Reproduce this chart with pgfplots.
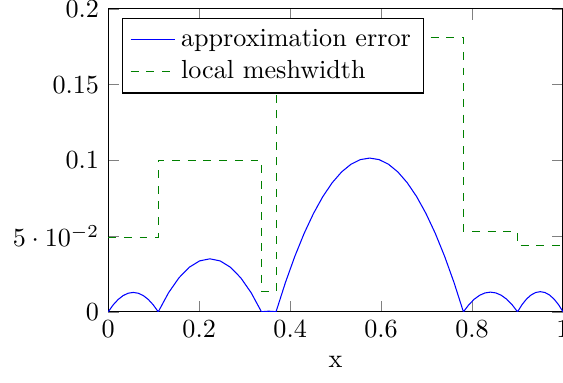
\documentclass[border=0pt]{standalone}
\usepackage{pgfplots}
\pgfplotsset{compat=1.18}
\begin{document}
\begin{tikzpicture}
\begin{axis}[
  scale only axis,
  width=174pt, height=115.9pt,
  xmin=0, xmax=1, ymin=0, ymax=0.2,
  xlabel={x},
  legend pos=north west,
  legend cell align=left,
]
\addplot[color=blue, solid, mark=none] coordinates {
(0,0) (0.011,0.00461) (0.022,0.00819) (0.033,0.01075) (0.044,0.01229) (0.055,0.0128) (0.066,0.01229) (0.077,0.01075) (0.088,0.00819) (0.099,0.00461) (0.11,0)
(0.1327,0.0126) (0.1554,0.0224) (0.1781,0.0294) (0.2008,0.0336) (0.2235,0.035) (0.2462,0.0336) (0.2689,0.0294) (0.2916,0.0224) (0.3143,0.0126) (0.337,0)
(0.345,0.0003) (0.353,0.0004) (0.361,0.0003) (0.369,0)
(0.3896,0.01929) (0.4102,0.03654) (0.4308,0.05177) (0.4514,0.06496) (0.472,0.07613) (0.4926,0.08526) (0.5132,0.09237) (0.5338,0.09744) (0.5544,0.10049) (0.575,0.1015)
(0.5956,0.10049) (0.6162,0.09744) (0.6368,0.09237) (0.6574,0.08526) (0.678,0.07613) (0.6986,0.06496) (0.7192,0.05177) (0.7398,0.03654) (0.7604,0.01929) (0.781,0)
(0.7929,0.00468) (0.8048,0.00832) (0.8167,0.01092) (0.8286,0.01248) (0.8405,0.013) (0.8524,0.01248) (0.8643,0.01092) (0.8762,0.00832) (0.8881,0.00468) (0.9,0)
(0.91,0.00479) (0.92,0.00851) (0.93,0.01117) (0.94,0.01277) (0.95,0.0133) (0.96,0.01277) (0.97,0.01117) (0.98,0.00851) (0.99,0.00479) (1,0)
};
\addlegendentry{approximation error}
\addplot[color=green!50!black, dashed, const plot, mark=none] coordinates {
(0,0.049) (0.11,0.1) (0.337,0.0136) (0.369,0.181) (0.781,0.053) (0.9,0.0437) (1,0.0437)
};
\addlegendentry{local meshwidth}
\end{axis}
\pgfresetboundingbox
\path ([xshift=-41.4pt,yshift=-27.2pt]current axis.south west) rectangle ([yshift=3.4pt]current axis.north east);
\end{tikzpicture}
\end{document}
